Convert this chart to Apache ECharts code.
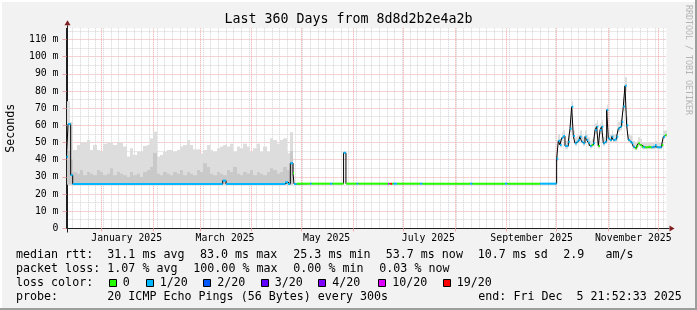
<!DOCTYPE html>
<html>
<head>
<meta charset="utf-8">
<script src="https://cdn.jsdelivr.net/npm/echarts@6.0.0/dist/echarts.min.js"></script>
<style>
html,body{margin:0;padding:0;background:#f2f2f2;overflow:hidden;}
#chart{width:697px;height:310px;}
</style>
</head>
<body>
<div id="chart"></div>
<script>
// ---------------- data ----------------
const titleText = 'Last 360 Days from 8d8d2b2e4a2b';
const yAxisName = 'Seconds';
const watermark = 'RRDTOOL / TOBI OETIKER';
const timeStart = '2024-12-10 21:52:33';
const timeEnd = '2025-12-05 21:52:33';
const yMin = 0, yMax = 116.5;
const yMajorTicks = [0, 10, 20, 30, 40, 50, 60, 70, 80, 90, 100, 110];
const yMinorTicks = [5, 15, 25, 35, 45, 55, 65, 75, 85, 95, 105, 115];
const monthTicks = ['2025-01-01', '2025-02-01', '2025-03-01', '2025-04-01', '2025-05-01', '2025-06-01',
  '2025-07-01', '2025-08-01', '2025-09-01', '2025-10-01', '2025-11-01', '2025-12-01'];
const monthLabelDates = ['2025-01-16', '2025-03-16', '2025-05-16', '2025-07-16', '2025-09-16', '2025-11-16'];
const monthLabels = ['January 2025', 'March 2025', 'May 2025', 'July 2025', 'September 2025', 'November 2025'];
const minorGridStart = '2024-12-14 12:00';
const minorGridStepDays = 4.6;

// loss colour buckets
const lossLabels = ['0', '1/20', '2/20', '3/20', '4/20', '10/20', '19/20'];
const lossColors = ['#26ff00', '#00b8ff', '#0059ff', '#5e00ff', '#7e00ff', '#dd00ff', '#ff0000'];

// median rtt (ms) breakpoints, Dec - Sep (value holds until next date)
const medianDates = [
  '2024-12-10 21:52', '2024-12-11 20:00', '2024-12-13 10:00', '2024-12-14 15:00',
  '2025-03-14 15:00', '2025-03-16 15:00',
  '2025-04-21 00:00', '2025-04-22 20:00', '2025-04-24 05:00', '2025-04-25 20:00', '2025-04-26 10:00', '2025-04-28 00:00',
  '2025-05-06 00:00', '2025-05-07 00:00', '2025-05-18 00:00', '2025-05-19 12:00',
  '2025-05-26 04:00', '2025-05-27 14:00', '2025-06-03 00:00', '2025-06-04 00:00',
  '2025-06-21 20:00', '2025-06-22 16:00', '2025-06-23 05:00', '2025-06-24 05:00', '2025-06-25 05:00', '2025-06-27 05:00',
  '2025-07-11 00:00', '2025-07-12 12:00', '2025-08-10 00:00', '2025-08-11 12:00',
  '2025-08-31 00:00', '2025-09-01 12:00', '2025-09-21 00:00'
];
const medianValues = [
  41.7, 60.7, 31.0, 25.8,
  27.8, 25.8,
  26.8, 25.8, 37.9, 32.0, 25.8, 26.0,
  26.0, 26.0, 26.0, 26.0,
  44.0, 26.0, 26.0, 26.0,
  26.0, 26.0, 26.0, 26.0, 26.0, 26.0,
  26.0, 26.0, 26.0, 26.0,
  26.0, 26.0, 26.0
];
const medianLoss = [
  1, 1, 1, 1,
  1, 1,
  1, 1, 1, 0, 1, 0,
  1, 0, 1, 0,
  1, 0, 1, 0,
  5, 0, 6, 0, 1, 0,
  1, 0, 1, 0,
  1, 0, 1
];
// median rtt (ms), daily from 2025-10-01
const median2Start = '2025-10-01';
const median2Values = [
  40.5, 51, 48.5, 52.7, 53.7, 47.9, 47.9, 50.4, 58, 70.8,
  53.7, 49.5, 50.5, 51.4, 53.4, 50.4, 49.5, 53.4, 51.4, 49.9,
  47.9, 48.5, 49.5, 57.2, 59.2, 47.9, 57.2, 59.2, 49.5, 50.4,
  69, 52.3, 51.4, 53.4, 51.4, 51.8, 53.4, 58.2, 59.2, 62,
  71, 83, 60, 51.4, 50.4, 49.5, 47.5, 46.6, 47.9, 49.5,
  48.5, 47.5, 47.2, 47.2, 47.2, 47.5, 47.2, 47.2, 47.5, 48.5,
  47.2, 47.2, 47.2, 48.5, 53.4, 54.3
];
const median2Loss = [
  1, 1, 1, 1, 1, 1, 1, 1, 1, 1,
  1, 1, 1, 1, 1, 1, 1, 1, 1, 1,
  1, 0, 1, 1, 1, 0, 1, 1, 1, 1,
  1, 1, 1, 1, 1, 1, 1, 1, 1, 1,
  1, 1, 1, 1, 1, 1, 1, 0, 0, 0,
  0, 0, 1, 0, 0, 0, 0, 1, 1, 1,
  1, 1, 1, 0, 1, 0
];

// smoke (ping spread), 2-day bins from 2024-12-11
const smoke1Start = '2024-12-11';
const smoke1StepDays = 2;
const smoke1Lo = [
  25.4, 25.4, 25.4, 25.4, 25.4, 25.4, 25.4, 25.4, 25.4, 25.4,
  25.4, 25.4, 25.4, 25.4, 25.4, 25.4, 25.4, 25.4, 25.4, 25.4,
  25.4, 25.4, 25.4, 25.4, 25.4, 25.4, 25.4, 25.4, 25.4, 25.4,
  25.4, 25.4, 25.4, 25.4, 25.4, 25.4, 25.4, 25.4, 25.4, 25.4,
  25.4, 25.4, 25.4, 25.4, 25.4, 25.4, 25.4, 25.4, 25.4, 25.4,
  25.4, 25.4, 25.4, 25.4, 25.4, 25.4, 25.4, 25.4, 25.4, 25.4,
  25.4, 25.4, 25.4, 25.4, 25.4, 25.4, 25.4, 25.4
];
const smoke1Mid = [
  45, 40, 33, 32, 34, 31, 33, 32, 31, 34,
  33, 31, 32, 35, 31, 33, 32, 31, 30, 33,
  31, 32, 30, 33, 34, 36, 44, 32, 31, 33,
  32, 31, 33, 32, 34, 31, 33, 32, 31, 34,
  33, 38, 36, 32, 31, 33, 32, 31, 34, 33,
  36, 32, 31, 33, 32, 34, 31, 33, 32, 31,
  33, 35, 34, 32, 33, 36, 34, 45
];
const smoke1Hi = [
  74, 62, 45.6, 48.5, 49.9, 50, 51.4, 45.6, 48.5, 45.6,
  45, 49.3, 50, 50, 48.5, 50, 50, 47.6, 41.8, 46.6,
  42.7, 44.6, 44.6, 48, 48.5, 52.4, 56.3, 41.8, 42.7, 44.6,
  45.6, 45.6, 44.6, 45.6, 47.6, 48.5, 51.4, 48.5, 46, 46,
  43.7, 45.6, 48.5, 45.6, 44.6, 46.6, 47.6, 48.5, 47.6, 49.3,
  44.6, 47.6, 46.6, 49.3, 47.6, 44.6, 46.6, 49.3, 44.6, 47.6,
  44.6, 52.4, 51.4, 49.3, 51.4, 52.4, 43.7, 56
];
// smoke, daily bins from 2025-10-01
const smoke2Start = '2025-10-01';
const smoke2Lo = [
  39, 49, 47, 51, 52, 46, 46, 49, 56, 68,
  52, 48, 49, 50, 52, 49, 48, 52, 50, 48,
  46.5, 47, 48, 55, 57, 46.5, 55, 57, 48, 49,
  66, 51, 50, 52, 50, 50, 52, 56, 57, 60,
  68, 80, 58, 50, 49, 48, 46, 45.5, 46.5, 48,
  47, 46, 46, 46, 46, 46, 46, 46, 46, 47,
  46, 46, 46, 47, 52, 53
];
const smoke2Hi = [
  44, 55, 52, 56, 57, 51, 51, 54, 62, 74,
  57, 53, 54, 55, 57, 54, 53, 57, 55, 53,
  51, 52, 53, 61, 63, 51, 61, 63, 53, 54,
  72, 56, 55, 57, 55, 55, 57, 62, 63, 66,
  76, 88, 65, 55, 54, 53, 51, 50, 51, 53,
  52, 50, 50, 50, 50, 50, 50, 50, 50, 51,
  50, 50, 50, 51, 57, 57
];

// legend text
const rttLabel = 'median rtt:';
const rttStats = ['31.1 ms avg', '83.0 ms max', '25.3 ms min', '53.7 ms now', '10.7 ms sd', '2.9   am/s'];
const lossLabel = 'packet loss:';
const lossStats = ['1.07 % avg', '100.00 % max', '0.00 % min', '0.03 % now'];
const lossColorLabel = 'loss color:';
const probeLabel = 'probe:';
const probeText = '20 ICMP Echo Pings (56 Bytes) every 300s';
const endText = 'end: Fri Dec  5 21:52:33 2025';

// ---------------- helpers ----------------
const DAY = 86400000;
function T(s) {
  const [d, tm] = s.split(' ');
  const [Y, M, D] = d.split('-').map(Number);
  let h = 0, mi = 0, se = 0;
  if (tm) { const p = tm.split(':').map(Number); h = p[0] || 0; mi = p[1] || 0; se = p[2] || 0; }
  return Date.UTC(Y, M - 1, D, h, mi, se);
}
const tStart = T(timeStart), tEnd = T(timeEnd);

// median segments [t0, t1, value, loss]
const segs = [];
const medPts = [];
for (let i = 0; i < medianDates.length; i++) {
  const t0 = T(medianDates[i]);
  const t1 = i + 1 < medianDates.length ? T(medianDates[i + 1]) : T(median2Start);
  segs.push([t0, t1, medianValues[i], medianLoss[i]]);
}
const m2s = T(median2Start);
for (let i = 0; i < median2Values.length; i++) {
  const t0 = m2s + i * DAY;
  const t1 = Math.min(t0 + DAY, tEnd);
  segs.push([t0, t1, median2Values[i], median2Loss[i]]);
}
segs.forEach(s => medPts.push([s[0], s[2]]));
medPts.push([tEnd, segs[segs.length - 1][2]]);

// smoke rects [t0, t1, lo, hi]
const darkSmoke = [], lightSmoke = [];
const s1 = T(smoke1Start);
for (let i = 0; i < smoke1Hi.length; i++) {
  const t0 = s1 + i * smoke1StepDays * DAY, t1 = t0 + smoke1StepDays * DAY;
  darkSmoke.push([t0, t1, smoke1Lo[i], smoke1Mid[i]]);
  lightSmoke.push([t0, t1, smoke1Mid[i], smoke1Hi[i]]);
}
const s2 = T(smoke2Start);
for (let i = 0; i < smoke2Hi.length; i++) {
  const t0 = s2 + i * DAY, t1 = Math.min(t0 + DAY, tEnd);
  lightSmoke.push([t0, t1, smoke2Lo[i], smoke2Hi[i]]);
}

const minorGrid = [];
for (let t = T(minorGridStart); t < tEnd; t += minorGridStepDays * DAY) minorGrid.push(t);

const FONT = '"DejaVu Sans Mono", monospace';
const GRID_MINOR = '#d2d2d2';
const GRID_MAJOR = '#efa5a5';

function rectRender(params, api) {
  const a = api.coord([api.value(0), api.value(3)]);
  const b = api.coord([api.value(1), api.value(2)]);
  const x0 = Math.round(a[0]), x1 = Math.round(b[0]);
  return { type: 'rect', shape: { x: x0, y: a[1], width: Math.max(x1 - x0, 1), height: b[1] - a[1] },
    style: { fill: api.visual('color') } };
}
function segRender(params, api) {
  const a = api.coord([api.value(0), api.value(2)]);
  const b = api.coord([api.value(1), api.value(2)]);
  return { type: 'line', shape: { x1: a[0], y1: a[1], x2: Math.max(b[0], a[0] + 1), y2: b[1] },
    style: { stroke: lossColors[api.value(3)], lineWidth: 2 } };
}

const chart = echarts.init(document.getElementById('chart'), null, { renderer: 'canvas' });
const grid = { left: 66.5, top: 28.3, width: 600, height: 200 };

chart.setOption({
  animation: false,
  backgroundColor: '#f2f2f2',
  grid: [Object.assign({ show: true, backgroundColor: '#ffffff', borderWidth: 0 }, grid)],
  xAxis: [
    { type: 'value', position: 'bottom', min: tStart, max: tEnd, axisLine: { show: false }, axisLabel: { show: false },
      axisTick: { show: false, customValues: minorGrid },
      splitLine: { show: true, lineStyle: { color: GRID_MINOR, type: [1, 1], width: 1 } } },
    { type: 'value', position: 'bottom', min: tStart, max: tEnd,
      axisLine: { show: true, lineStyle: { color: '#1f1f1f', width: 1 } },
      axisTick: { show: true, customValues: monthTicks.map(T), length: 3, lineStyle: { color: GRID_MAJOR } },
      axisLabel: { show: true, customValues: monthLabelDates.map(T), margin: 5, color: '#000', fontSize: 9.8, fontFamily: FONT,
        formatter: v => { const i = monthLabelDates.map(T).indexOf(v); return i >= 0 ? monthLabels[i] : ''; } },
      splitLine: { show: true, lineStyle: { color: GRID_MAJOR, type: [1, 1], width: 1 } } }
  ],
  yAxis: [
    { type: 'value', position: 'left', min: yMin, max: yMax, axisLine: { show: false }, axisLabel: { show: false },
      axisTick: { show: false, customValues: yMinorTicks },
      splitLine: { show: true, lineStyle: { color: GRID_MINOR, type: [1, 1], width: 1 } } },
    { type: 'value', min: yMin, max: yMax, position: 'left',
      axisLine: { show: true, lineStyle: { color: '#1f1f1f', width: 1 } },
      axisTick: { show: true, customValues: yMajorTicks, length: 4, lineStyle: { color: GRID_MAJOR } },
      axisLabel: { show: true, customValues: yMajorTicks, margin: 8, color: '#000', fontSize: 9.8, fontFamily: FONT,
        formatter: v => (v === 0 ? '0' : v + ' m') },
      splitLine: { show: true, lineStyle: { color: GRID_MAJOR, type: [1, 1], width: 1 } } }
  ],
  series: [
    { type: 'custom', name: 'smoke light', xAxisIndex: 1, yAxisIndex: 1, renderItem: rectRender,
      itemStyle: { color: '#dddddd' }, data: lightSmoke, encode: { x: [0, 1], y: [2, 3] }, z: 2, silent: true },
    { type: 'custom', name: 'smoke dark', xAxisIndex: 1, yAxisIndex: 1, renderItem: rectRender,
      itemStyle: { color: '#c9c9c9' }, data: darkSmoke, encode: { x: [0, 1], y: [2, 3] }, z: 3, silent: true },
    { type: 'line', name: 'median', xAxisIndex: 1, yAxisIndex: 1, data: medPts, step: 'end', symbol: 'none',
      lineStyle: { color: '#000000', width: 1 }, z: 4, silent: true },
    { type: 'custom', name: 'loss', xAxisIndex: 1, yAxisIndex: 1, renderItem: segRender, data: segs,
      encode: { x: [0, 1], y: 2 }, z: 5, silent: true }
  ]
});

// decorations positioned from the axis scales
const o = chart.convertToPixel({ xAxisIndex: 1, yAxisIndex: 1 }, [tStart, yMin]);
const e = chart.convertToPixel({ xAxisIndex: 1, yAxisIndex: 1 }, [tEnd, yMax]);
const ax = Math.round(o[0]) + 0.5, ay = Math.round(o[1]) + 0.5;
const ARROW = '#801f1f';
const textEl = (x, y, text, size, extra) => Object.assign({ type: 'text', x: x, y: y, silent: true,
  style: Object.assign({ text: text, fill: '#000', font: size + 'px ' + FONT, textVerticalAlign: 'middle' }, extra || {}) });

const els = [];
// frame
els.push({ type: 'rect', shape: { x: 0, y: 0, width: 697, height: 2 }, style: { fill: '#ffffff' } });
els.push({ type: 'rect', shape: { x: 0, y: 0, width: 2, height: 310 }, style: { fill: '#ffffff' } });
els.push({ type: 'rect', shape: { x: 0, y: 308, width: 697, height: 2 }, style: { fill: '#9e9e9e' } });
els.push({ type: 'rect', shape: { x: 695, y: 0, width: 2, height: 310 }, style: { fill: '#9e9e9e' } });
// axis extensions and arrows
els.push({ type: 'line', shape: { x1: ax - 4, y1: ay, x2: e[0] + 3, y2: ay }, style: { stroke: '#1f1f1f', lineWidth: 1 } });
els.push({ type: 'line', shape: { x1: ax, y1: ay + 4, x2: ax, y2: e[1] - 3 }, style: { stroke: '#1f1f1f', lineWidth: 1 } });
els.push({ type: 'polygon', shape: { points: [[e[0] + 3, ay - 3], [e[0] + 8, ay], [e[0] + 3, ay + 3]] }, style: { fill: ARROW } });
els.push({ type: 'polygon', shape: { points: [[ax - 3, e[1] - 3], [ax, e[1] - 8], [ax + 3, e[1] - 3]] }, style: { fill: ARROW } });
// title, axis name, watermark
els.push(textEl(348.5, 19.5, titleText, 13.3, { textAlign: 'center' }));
els.push(Object.assign(textEl(11, (o[1] + e[1]) / 2, yAxisName, 11.66, { textAlign: 'center' }), { rotation: Math.PI / 2 }));
els.push(Object.assign(textEl(688, 60, watermark, 8.3, { textAlign: 'center', fill: '#b4b4b4' }), { rotation: -Math.PI / 2 }));
// legend rows
const LF = 11.66;
const rowY = [254.5, 268.5, 282.5, 296.5];
const rttX = [107.3, 200, 293.3, 385.7, 477.7, 563.3];
const lossX = [107.3, 193.3, 293.3, 379.3];
const boxX = [108.7, 145.7, 203.3, 260.7, 318.3, 378.3, 442.7];
els.push(textEl(16, rowY[0], rttLabel, LF));
rttStats.forEach((s, i) => els.push(textEl(rttX[i], rowY[0], s, LF)));
els.push(textEl(16, rowY[1], lossLabel, LF));
lossStats.forEach((s, i) => els.push(textEl(lossX[i], rowY[1], s, LF)));
els.push(textEl(16, rowY[2], lossColorLabel, LF));
lossLabels.forEach((s, i) => {
  els.push({ type: 'rect', shape: { x: Math.round(boxX[i]) + 0.5, y: 279.5, width: 7, height: 7 },
    style: { fill: lossColors[i], stroke: '#000', lineWidth: 1 } });
  els.push(textEl(boxX[i] + 14, rowY[2], s, LF));
});
els.push(textEl(16, rowY[3], probeLabel, LF));
els.push(textEl(107.3, rowY[3], probeText, LF));
els.push(textEl(478.3, rowY[3], endText, LF));

chart.setOption({ graphic: { elements: els } });
</script>
</body>
</html>
